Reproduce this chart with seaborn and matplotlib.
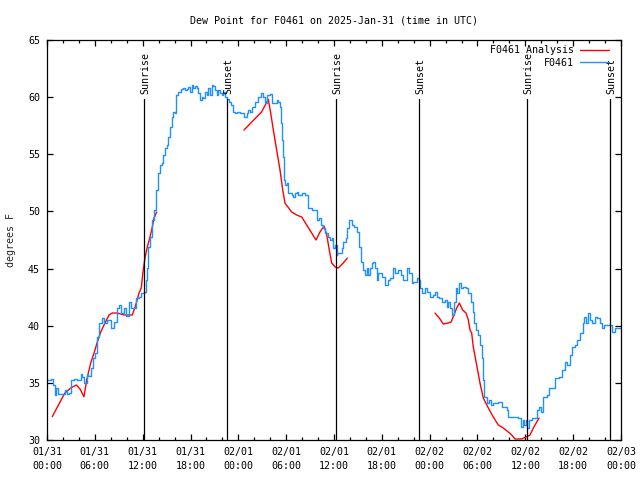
import numpy as np
import pandas as pd
import matplotlib
matplotlib.use("Agg")
import matplotlib.pyplot as plt
import seaborn as sns

# ---------------- data ----------------
title = "Dew Point for F0461 on 2025-Jan-31 (time in UTC)"
ylabel = "degrees F"

tick_hours = list(range(0, 73, 6))
tick_labels = ["01/31\n00:00", "01/31\n06:00", "01/31\n12:00", "01/31\n18:00",
               "02/01\n00:00", "02/01\n06:00", "02/01\n12:00", "02/01\n18:00",
               "02/02\n00:00", "02/02\n06:00", "02/02\n12:00", "02/02\n18:00",
               "02/03\n00:00"]
y_ticks = [30, 35, 40, 45, 50, 55, 60, 65]

sun_hours = [12.20, 22.62, 36.29, 46.70, 60.25, 70.66]
sun_labels = ["Sunrise", "Sunset", "Sunrise", "Sunset", "Sunrise", "Sunset"]

# observations F0461 (hours since 01/31 00:00 UTC, degrees F)
obs_hours = [0.04, 0.54, 0.79, 1.00, 1.13, 1.38, 1.92, 2.22, 2.47, 2.76, 3.05, 3.39, 3.80, 4.23,
             4.43, 4.64, 4.98, 5.18, 5.48, 5.77, 6.02, 6.31, 6.52, 6.94, 7.15, 7.56, 7.99, 8.40,
             8.82, 9.03, 9.24, 9.66, 9.95, 10.29, 10.57, 10.91, 11.20, 11.54, 11.83, 12.17, 12.38,
             12.51, 12.67, 12.92, 13.21, 13.42, 13.67, 13.96, 14.17, 14.39, 14.59, 14.80, 15.02,
             15.22, 15.43, 15.64, 15.84, 16.02, 16.18, 16.47, 16.77, 17.10, 17.31, 17.52, 17.72,
             17.94, 18.15, 18.35, 18.56, 18.78, 18.98, 19.19, 19.41, 19.61, 19.82, 20.03, 20.23,
             20.45, 20.66, 20.86, 21.07, 21.29, 21.49, 21.70, 21.91, 22.12, 22.33, 22.62, 22.87,
             23.04, 23.29, 23.58, 23.80, 24.21, 24.71, 25.05, 25.25, 25.46, 25.68, 26.09, 26.51,
             26.81, 27.13, 27.35, 27.63, 27.97, 28.19, 28.47, 28.81, 29.01, 29.23, 29.31, 29.44,
             29.57, 29.73, 29.85, 30.07, 30.27, 30.69, 30.90, 31.11, 31.32, 31.52, 31.95, 32.36,
             32.78, 33.20, 33.62, 33.91, 34.16, 34.33, 34.58, 34.87, 35.29, 35.50, 35.71, 35.91,
             36.13, 36.34, 36.41, 36.75, 36.97, 37.17, 37.51, 37.67, 37.92, 38.22, 38.51, 38.85,
             39.14, 39.35, 39.68, 39.89, 40.10, 40.30, 40.52, 40.73, 40.93, 41.14, 41.35, 41.56,
             41.77, 41.98, 42.40, 42.81, 43.03, 43.44, 43.65, 44.07, 44.37, 44.69, 45.12, 45.45,
             45.75, 45.95, 46.37, 46.70, 46.79, 47.00, 47.42, 47.63, 48.04, 48.46, 48.67, 48.88,
             49.21, 49.51, 49.92, 50.14, 50.34, 50.55, 50.76, 50.97, 51.06, 51.31, 51.47, 51.68,
             51.89, 52.22, 52.56, 52.85, 53.15, 53.40, 53.60, 53.81, 54.10, 54.31, 54.53, 54.65,
             54.82, 55.16, 55.48, 55.66, 55.98, 56.41, 56.61, 57.04, 57.45, 57.66, 57.86, 58.29,
             58.70, 59.12, 59.42, 59.67, 59.87, 60.09, 60.25, 60.50, 60.80, 61.00, 61.43, 61.75,
             61.93, 62.26, 62.68, 63.01, 63.31, 63.72, 64.26, 64.56, 64.98, 65.19, 65.60, 65.82,
             66.23, 66.52, 66.86, 67.20, 67.36, 67.61, 67.90, 68.11, 68.33, 68.74, 69.03, 69.37,
             69.58, 69.87, 70.62, 70.83, 71.03, 71.25, 71.88]
obs_values = [35.25, 35.34, 34.81, 33.94, 34.55, 34.02, 34.02, 34.37, 34.02, 34.11, 35.25, 35.34,
              35.25, 35.77, 35.51, 34.99, 35.77, 35.60, 36.30, 37.17, 37.61, 39.01, 40.24, 40.67,
              40.24, 40.50, 39.80, 40.32, 41.55, 41.81, 41.11, 41.55, 40.85, 42.07, 41.55, 41.55,
              42.42, 42.51, 42.86, 42.95, 44.00, 45.05, 46.89, 47.76, 49.25, 50.12, 51.87, 53.36,
              54.06, 54.23, 54.93, 55.55, 55.81, 56.51, 57.38, 58.26, 58.70, 58.61, 60.18, 60.45,
              60.71, 60.80, 60.62, 60.71, 60.88, 60.45, 61.06, 60.80, 60.97, 60.80, 60.36, 59.75,
              60.01, 59.92, 60.45, 60.18, 60.80, 60.18, 61.06, 60.97, 60.62, 60.18, 60.62, 60.36,
              60.18, 60.45, 60.01, 59.83, 59.57, 59.31, 58.70, 58.61, 58.70, 58.61, 58.26, 58.61,
              58.87, 58.70, 59.13, 59.57, 60.01, 60.36, 60.01, 59.48, 60.18, 60.27, 59.48, 59.48,
              59.75, 59.57, 59.13, 57.73, 56.25, 54.76, 52.75, 52.31, 52.48, 51.61, 51.43, 51.26,
              51.61, 51.70, 51.43, 51.61, 51.43, 50.30, 50.12, 50.12, 49.25, 49.42, 48.81, 48.55,
              48.11, 47.76, 47.50, 47.67, 46.80, 47.06, 46.19, 46.36, 46.36, 46.80, 47.32, 47.67,
              48.55, 49.25, 48.81, 48.64, 48.20, 46.89, 45.57, 44.87, 44.44, 45.05, 44.44, 45.05,
              45.49, 45.57, 45.05, 44.00, 44.61, 44.61, 44.26, 43.56, 44.00, 44.17, 45.05, 44.61,
              44.87, 44.44, 44.00, 45.05, 44.61, 43.74, 43.82, 44.17, 44.00, 43.30, 42.86, 43.30,
              42.95, 42.51, 42.69, 42.95, 42.51, 42.42, 42.07, 42.25, 41.64, 42.07, 41.55, 40.94,
              40.94, 42.07, 43.30, 42.86, 43.74, 43.30, 43.39, 43.30, 42.86, 42.07, 41.20, 40.24,
              39.62, 39.19, 38.31, 37.17, 35.25, 33.76, 33.24, 33.50, 33.06, 33.24, 33.24, 33.32,
              32.89, 32.89, 32.62, 32.01, 32.01, 32.01, 31.92, 31.14, 31.75, 31.31, 31.75, 31.05,
              31.75, 31.92, 31.92, 32.62, 32.89, 32.45, 33.76, 33.94, 34.55, 34.55, 35.42, 35.51,
              36.12, 36.82, 36.56, 37.44, 38.14, 38.31, 38.75, 39.36, 40.24, 40.76, 40.24, 41.11,
              40.50, 40.24, 40.76, 40.67, 40.24, 39.80, 40.06, 40.06, 39.45, 39.45, 39.80, 39.80]

# analysis F0461 (three separate runs)
ana1_hours = [0.66, 2.22, 2.97, 3.68, 4.14, 4.64, 4.98, 5.48, 5.90, 6.31, 6.74, 7.15, 7.78, 8.19,
              8.82, 9.66, 10.07, 10.70, 11.13, 11.54, 11.83, 12.04, 12.29, 12.58, 12.92, 13.21,
              13.42, 13.76]
ana1_values = [32.04, 34.09, 34.55, 34.81, 34.46, 33.79, 35.25, 36.74, 37.61, 38.57, 39.45, 40.06,
               40.94, 41.11, 41.11, 40.94, 40.94, 40.94, 41.81, 42.86, 43.30, 44.70, 45.92, 46.89,
               47.76, 48.64, 49.42, 49.95]
ana2_hours = [24.71, 26.93, 27.76, 28.06, 28.39, 28.81, 29.23, 29.57, 29.85, 30.69, 31.32, 31.95,
              32.58, 33.20, 33.74, 34.24, 34.75, 35.09, 35.41, 35.71, 36.13, 36.54, 37.17, 37.67]
ana2_values = [57.12, 58.72, 59.81, 58.61, 57.12, 55.37, 53.62, 51.87, 50.73, 49.95, 49.69, 49.51,
               48.81, 48.11, 47.50, 48.20, 48.72, 47.94, 46.62, 45.49, 45.14, 45.05, 45.49, 45.92]
ana3_hours = [48.67, 49.21, 49.71, 50.34, 50.68, 51.05, 51.39, 51.72, 52.14, 52.56, 52.85, 53.06,
              53.27, 53.47, 53.90, 54.31, 54.73, 55.36, 55.98, 56.61, 57.24, 57.86, 58.29, 58.70,
              59.54, 60.09, 60.59, 61.00, 61.72]
ana3_values = [41.11, 40.67, 40.15, 40.24, 40.32, 40.94, 41.55, 41.99, 41.37, 41.11, 40.50, 39.62,
               39.36, 38.14, 36.56, 34.99, 33.67, 32.80, 32.01, 31.31, 31.05, 30.70, 30.44, 30.09,
               30.09, 30.26, 30.44, 31.05, 31.92]

# ---------------- style ----------------
sns.set_style("white")
plt.rcParams["font.family"] = ["DejaVu Sans Mono"]
plt.rcParams["font.size"] = 7.2
plt.rcParams["axes.edgecolor"] = "black"
plt.rcParams["text.color"] = "black"

RED = "#ff0000"
BLUE = "#1e90ff"

fig = plt.figure(figsize=(6.4, 4.8), dpi=100)
ax = fig.add_axes([47 / 640, 40 / 480, 574 / 640, 400 / 480])

obs_df = pd.DataFrame({"hours": obs_hours, "dewpoint": obs_values})
segments = [(ana1_hours, ana1_values), (ana2_hours, ana2_values), (ana3_hours, ana3_values)]
for i, (h, v) in enumerate(segments):
    df = pd.DataFrame({"hours": h, "dewpoint": v})
    sns.lineplot(data=df, x="hours", y="dewpoint", ax=ax, color=RED, lw=1.0,
                 estimator=None, sort=False, label="F0461 Analysis" if i == 0 else None,
                 legend=False)
sns.lineplot(data=obs_df, x="hours", y="dewpoint", ax=ax, color=BLUE, lw=1.0,
             estimator=None, sort=False, label="F0461", legend=False,
             drawstyle="steps-post")

for t, lab in zip(sun_hours, sun_labels):
    ax.axvline(t, ymin=0, ymax=(440 - 99) / 400, color="black", lw=0.9)
    ax.text(t + 0.1, (440 - 94) / 400, lab, transform=ax.get_xaxis_transform(),
            rotation=90, ha="center", va="bottom", fontsize=7.2)

ax.set_xlim(0, 72)
ax.set_ylim(30, 65)
ax.set_xticks(tick_hours)
ax.set_xticklabels(tick_labels, linespacing=1.55)
ax.set_xticks(np.arange(0, 73, 2), minor=True)
ax.set_yticks(y_ticks)
ax.set_yticklabels([str(v) for v in y_ticks])
ax.tick_params(which="both", direction="in", top=True, right=True, bottom=True, left=True,
               colors="black", width=0.9)
ax.tick_params(which="major", length=4.5, pad=5, labelsize=7.2)
ax.tick_params(which="minor", length=2.5)
for s in ax.spines.values():
    s.set_color("black")
    s.set_linewidth(0.9)

ax.set_xlabel("")
ax.set_ylabel(ylabel, fontsize=7.2)
ax.yaxis.set_label_coords((16 - 47) / 574, 0.5)
ax.set_title(title, fontsize=7.2, pad=12)

handles, labels = ax.get_legend_handles_labels()
ax.legend(handles, labels, loc="upper right",
          bbox_to_anchor=(609 / 640, 1 - 45 / 480), bbox_transform=fig.transFigure,
          frameon=False, markerfirst=False, handlelength=2.9, handletextpad=0.6,
          labelspacing=0.25, borderpad=0, borderaxespad=0, fontsize=7.2)

fig.savefig("out.png", dpi=100)
